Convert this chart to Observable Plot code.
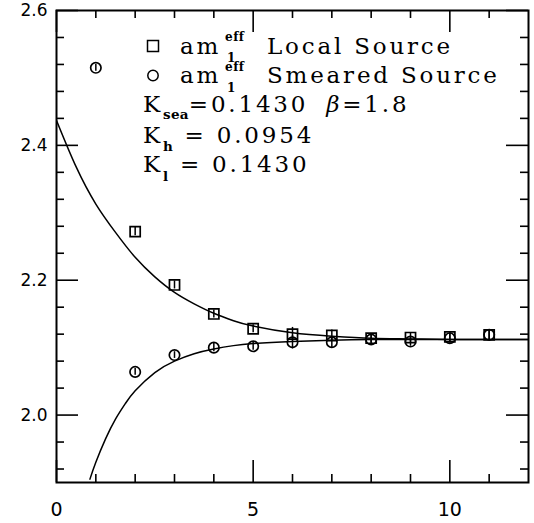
<!DOCTYPE html>
<html>
<head>
<meta charset="utf-8">
<script src="https://cdn.jsdelivr.net/npm/d3@7"></script>
<script src="https://cdn.jsdelivr.net/npm/@observablehq/plot@0.6"></script>
<style>
  html, body { margin: 0; padding: 0; background: #fff; }
  #chart { width: 534px; height: 523px; }
</style>
</head>
<body>
<div id="chart"></div>
<script>
// ---- data ----
const squareT   = [2, 3, 4, 5, 6, 7, 8, 9, 10, 11];
const squareVal = [2.272, 2.193, 2.150, 2.128, 2.120, 2.118, 2.114, 2.115, 2.116, 2.119];
const squareErr = [0.006, 0.006, 0.006, 0.006, 0.010, 0.008, 0.007, 0.007, 0.007, 0.007];

const circleT   = [1, 2, 3, 4, 5, 6, 7, 8, 9, 10, 11];
const circleVal = [2.515, 2.064, 2.089, 2.100, 2.102, 2.108, 2.108, 2.112, 2.109, 2.114, 2.119];
const circleErr = [0.005, 0.005, 0.005, 0.006, 0.006, 0.010, 0.008, 0.007, 0.007, 0.007, 0.007];

// fit curves
const fitUpperT   = [0, 0.5, 1, 1.5, 2, 2.5, 3, 3.5, 4, 4.5, 5, 6, 7, 8, 9, 10, 12];
const fitUpperVal = [2.437, 2.368, 2.313, 2.271, 2.234, 2.205, 2.182, 2.165, 2.151, 2.140, 2.132, 2.122, 2.117, 2.114, 2.113, 2.112, 2.112];
const fitLowerT   = [0.85, 1, 1.25, 1.5, 1.75, 2, 2.5, 3, 3.5, 4, 4.5, 5, 6, 7, 8, 10, 12];
const fitLowerVal = [1.905, 1.930, 1.965, 1.994, 2.017, 2.036, 2.063, 2.080, 2.091, 2.098, 2.103, 2.106, 2.109, 2.111, 2.112, 2.112, 2.112];

// ticks
const xMajor = [0, 5, 10];
const xMinor = [1, 2, 3, 4, 6, 7, 8, 9, 11];
const yMajor = [2.0, 2.2, 2.4, 2.6];
const yMinor = [1.92, 1.96, 2.04, 2.08, 2.12, 2.16, 2.24, 2.28, 2.32, 2.36, 2.44, 2.48, 2.52, 2.56];

// ---- build tables ----
const squares = squareT.map((t, i) => ({t, v: squareVal[i], e: squareErr[i]}));
const circles = circleT.map((t, i) => ({t, v: circleVal[i], e: circleErr[i]}));
const fitUpper = fitUpperT.map((t, i) => ({t, v: fitUpperVal[i]}));
const fitLower = fitLowerT.map((t, i) => ({t, v: fitLowerVal[i]}));

const W = 534, H = 523, mL = 56, mR = 6, mT = 10, mB = 41;
const iw = W - mL - mR, ih = H - mT - mB;
const major = 22, minor = 8;

const plot = Plot.plot({
  width: W, height: H,
  marginLeft: mL, marginRight: mR, marginTop: mT, marginBottom: mB,
  x: {domain: [0, 12]},
  y: {domain: [1.9, 2.6]},
  style: {background: "white", color: "black", fontFamily: "DejaVu Sans"},
  marks: [
    Plot.axisX(xMajor, {tickSize: 0, tickPadding: 20, fontSize: 19, label: null, tickFormat: d => String(d)}),
    Plot.axisY(yMajor, {tickSize: 0, tickPadding: 9, fontSize: 17, label: null, tickFormat: d => d.toFixed(1)}),
    // inward ticks, all four sides
    Plot.ruleX(xMajor, {x: d => d, insetTop: ih - major, strokeWidth: 1.6}),
    Plot.ruleX(xMajor, {x: d => d, insetBottom: ih - major, strokeWidth: 1.6}),
    Plot.ruleX(xMinor, {x: d => d, insetTop: ih - minor, strokeWidth: 1.6}),
    Plot.ruleX(xMinor, {x: d => d, insetBottom: ih - minor, strokeWidth: 1.6}),
    Plot.ruleY(yMajor, {y: d => d, insetRight: iw - major, strokeWidth: 1.6}),
    Plot.ruleY(yMajor, {y: d => d, insetLeft: iw - major, strokeWidth: 1.6}),
    Plot.ruleY(yMinor, {y: d => d, insetRight: iw - minor, strokeWidth: 1.6}),
    Plot.ruleY(yMinor, {y: d => d, insetLeft: iw - minor, strokeWidth: 1.6}),
    // fit curves
    Plot.line(fitUpper, {x: "t", y: "v", curve: "natural", stroke: "black", strokeWidth: 1.5, clip: true}),
    Plot.line(fitLower, {x: "t", y: "v", curve: "natural", stroke: "black", strokeWidth: 1.5, clip: true}),
    // error bars
    Plot.ruleX(squares, {x: "t", y1: d => d.v - d.e, y2: d => d.v + d.e, strokeWidth: 1.5}),
    Plot.ruleX(circles, {x: "t", y1: d => d.v - d.e, y2: d => d.v + d.e, strokeWidth: 1.5}),
    // points
    Plot.dot(squares, {x: "t", y: "v", symbol: "square", r: 5.7, stroke: "black", fill: "none", strokeWidth: 1.7}),
    Plot.dot(circles, {x: "t", y: "v", symbol: "circle", r: 5.2, stroke: "black", fill: "none", strokeWidth: 1.7}),
    Plot.frame({stroke: "black", strokeWidth: 2})
  ]
});

// ---- in-plot legend / annotation text ----
const svg = d3.select(plot);
const g = svg.append("g")
  .attr("font-family", "'DejaVu Serif', serif")
  .attr("text-anchor", "start")
  .attr("fill", "black");
const main = 23, small = 13.5, sup = 12, ls = "2.8px";

g.append("rect").attr("x", 147.5).attr("y", 40.5).attr("width", 11).attr("height", 11)
  .attr("fill", "none").attr("stroke", "black").attr("stroke-width", 1.5);
g.append("circle").attr("cx", 153).attr("cy", 75.5).attr("r", 5.2)
  .attr("fill", "none").attr("stroke", "black").attr("stroke-width", 1.5);

function txt(s, x, y, size, opts = {}) {
  const t = g.append("text").attr("x", x).attr("y", y).attr("font-size", size)
    .attr("letter-spacing", opts.ls ?? ls).text(s);
  if (opts.bold) t.attr("font-weight", "bold");
  if (opts.italic) t.attr("font-style", "italic");
  return t;
}
// line 1
txt("am", 180, 54, main);
txt("eff", 225, 41, sup, {bold: true, ls: "0.5px"});
txt("1", 227, 62, sup, {bold: true, ls: "0px"});
txt("Local Source", 267, 54, main);
// line 2
txt("am", 180, 83, main);
txt("eff", 225, 71, sup, {bold: true, ls: "0.5px"});
txt("1", 227, 92, sup, {bold: true, ls: "0px"});
txt("Smeared Source", 267, 83, main);
// line 3
const l3 = g.append("text").attr("x", 143).attr("y", 112).attr("font-size", main).attr("letter-spacing", ls);
l3.append("tspan").text("K");
l3.append("tspan").attr("dy", 7).attr("font-size", small).attr("font-weight", "bold").attr("letter-spacing", "0.3px").text("sea");
l3.append("tspan").attr("dy", -7).text("=0.1430");
l3.append("tspan").attr("dx", 18).attr("font-style", "italic").text("β");
l3.append("tspan").text("=1.8");
// line 4
const l4 = g.append("text").attr("x", 143).attr("y", 143).attr("font-size", main).attr("letter-spacing", ls);
l4.append("tspan").text("K");
l4.append("tspan").attr("dy", 8).attr("font-size", small).attr("font-weight", "bold").text("h");
l4.append("tspan").attr("dy", -8).attr("dx", 9).text("= 0.0954");
// line 5
const l5 = g.append("text").attr("x", 143).attr("y", 172).attr("font-size", main).attr("letter-spacing", ls);
l5.append("tspan").text("K");
l5.append("tspan").attr("dy", 8.5).attr("font-size", small).attr("font-weight", "bold").text("l");
l5.append("tspan").attr("dy", -8.5).attr("dx", 9).text("= 0.1430");

document.getElementById("chart").appendChild(plot);
</script>
</body>
</html>
